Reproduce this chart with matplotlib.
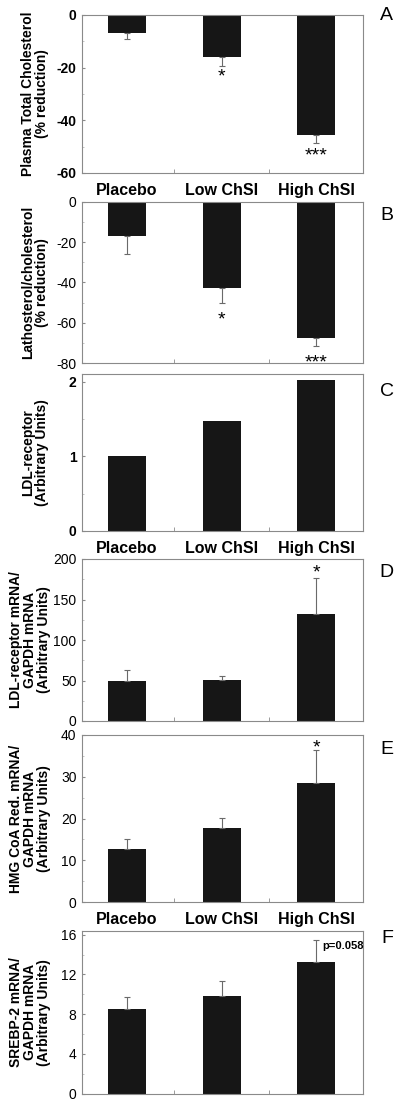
import matplotlib
matplotlib.use("Agg")
import matplotlib.pyplot as plt
import numpy as np

plt.rcParams['font.family'] = ['Liberation Sans', 'DejaVu Sans']

groups = ['Placebo', 'Low ChSI', 'High ChSI']

# A - plasma total cholesterol (% reduction)
chol_red = [-6.7, -16.0, -45.7]
chol_err = [2.5, 3.2, 2.9]
# B - lathosterol/cholesterol (% reduction)
lath_red = [-17.2, -42.5, -67.5]
lath_err = [8.6, 7.8, 3.8]
# C - LDL-receptor protein
ldlr_prot = [1.0, 1.48, 2.03]
# D - LDL-receptor mRNA / GAPDH mRNA
ldlr_mrna = [50.0, 50.5, 131.7]
ldlr_mrna_err = [12.6, 5.5, 44.3]
# E - HMG CoA reductase mRNA / GAPDH mRNA
hmgcr_mrna = [12.7, 17.8, 28.5]
hmgcr_err = [2.3, 2.4, 7.9]
# F - SREBP-2 mRNA / GAPDH mRNA
srebp_mrna = [8.5, 9.85, 13.25]
srebp_err = [1.2, 1.5, 2.2]

W, H = 400, 1104
fig = plt.figure(figsize=(W / 100, H / 100), dpi=100)

BAR = '#161616'
EDGE = '#8a8a8a'


def make_ax(top, bottom):
    return fig.add_axes([82 / W, 1 - bottom / H, 281 / W, (bottom - top) / H])


def panel(ax, vals, errs, ylim, yticks, ylabel, letter, bold_ticks,
          show_x, label_x, letter_dy):
    x = np.arange(len(vals))
    ax.bar(x, vals, width=0.40, color=BAR, zorder=2)
    if errs is not None:
        vals_a = np.array(vals)
        e = np.array(errs)
        lower = np.where(vals_a < 0, e, 0)
        upper = np.where(vals_a >= 0, e, 0)
        ax.errorbar(x, vals, yerr=[lower, upper], fmt='none', ecolor='#6a6a6a',
                    elinewidth=0.8, capsize=2, capthick=0.8, zorder=3)
    ax.set_xlim(-0.47, 2.49)
    ax.set_ylim(*ylim)
    ax.set_yticks(yticks)
    ax.set_yticklabels([str(t) for t in yticks], fontsize=10,
                       fontweight='bold' if bold_ticks else 'normal')
    ax.set_yticks(np.array(yticks[:-1]) + (yticks[1] - yticks[0]) / 2, minor=True)
    ax.set_xticks(x)
    ax.set_xticks([0.5, 1.5], minor=True)
    if show_x:
        ax.set_xticklabels(groups, fontsize=11.5, fontweight='bold')
    else:
        ax.set_xticklabels([])
    ax.tick_params(axis='x', which='major', length=0, pad=7)
    ax.tick_params(axis='x', which='minor', direction='in', length=3, color='#8a8a8a')
    ax.tick_params(axis='y', which='major', direction='in', length=2, pad=4,
                   color='#8a8a8a')
    ax.tick_params(axis='y', which='minor', direction='in', length=1.5,
                   color='#bbbbbb')
    for s in ax.spines.values():
        s.set_color(EDGE)
        s.set_linewidth(0.8)
    ax.text(label_x, 0.5, ylabel, transform=ax.transAxes, rotation=90,
            ha='center', va='center', fontsize=10, fontweight='bold',
            linespacing=1.0, multialignment='center')
    ax.text(1.085, 1 - letter_dy, letter, transform=ax.transAxes,
            ha='center', va='center', fontsize=14)


axA = make_ax(15, 173)
panel(axA, chol_red, chol_err, (-60, 0), [-60, -40, -20, 0],
      'Plasma Total Cholesterol\n(% reduction)', 'A', True, True, -0.167, 0.0)
axA.annotate('*', (1, chol_red[1] - chol_err[1]), xytext=(0, -2),
             textcoords='offset points', ha='center', va='top', fontsize=14)
axA.annotate('***', (2, chol_red[2] - chol_err[2]), xytext=(0, -3),
             textcoords='offset points', ha='center', va='top', fontsize=14)

axB = make_ax(201.7, 363.3)
panel(axB, lath_red, lath_err, (-80, 0), [-80, -60, -40, -20, 0],
      'Lathosterol/cholesterol\n(% reduction)', 'B', False, False, -0.167, 0.085)
axB.annotate('*', (1, lath_red[1] - lath_err[1]), xytext=(0, -6),
             textcoords='offset points', ha='center', va='top', fontsize=14)
axB.annotate('***', (2, lath_red[2] - lath_err[2]), xytext=(0, -6),
             textcoords='offset points', ha='center', va='top', fontsize=14)

axC = make_ax(374.3, 531)
panel(axC, ldlr_prot, None, (0, 2.1), [0, 1, 2],
      'LDL-receptor\n(Arbitrary Units)', 'C', True, True, -0.167, 0.11)

axD = make_ax(559, 721)
panel(axD, ldlr_mrna, ldlr_mrna_err, (0, 200), [0, 50, 100, 150, 200],
      'LDL-receptor mRNA/\nGAPDH mRNA\n(Arbitrary Units)', 'D', False, False,
      -0.185, 0.085)
axD.annotate('*', (2, ldlr_mrna[2] + ldlr_mrna_err[2]), xytext=(0, -2),
             textcoords='offset points', ha='center', va='bottom', fontsize=14)

axE = make_ax(734.7, 902.3)
panel(axE, hmgcr_mrna, hmgcr_err, (0, 40), [0, 10, 20, 30, 40],
      'HMG CoA Red. mRNA/\nGAPDH mRNA\n(Arbitrary Units)', 'E', False, True,
      -0.185, 0.09)
axE.annotate('*', (2, hmgcr_mrna[2] + hmgcr_err[2]), xytext=(0, -5),
             textcoords='offset points', ha='center', va='bottom', fontsize=14)

axF = make_ax(930.7, 1093.5)
panel(axF, srebp_mrna, srebp_err, (0, 16.4), [0, 4, 8, 12, 16],
      'SREBP-2 mRNA/\nGAPDH mRNA\n(Arbitrary Units)', 'F', False, False,
      -0.185, 0.045)
axF.annotate('p=0.058', (2, srebp_mrna[2] + srebp_err[2]), xytext=(4, -4),
             textcoords='offset points', ha='left', va='center', fontsize=8,
             fontweight='bold')

fig.savefig('out.png', dpi=100)
